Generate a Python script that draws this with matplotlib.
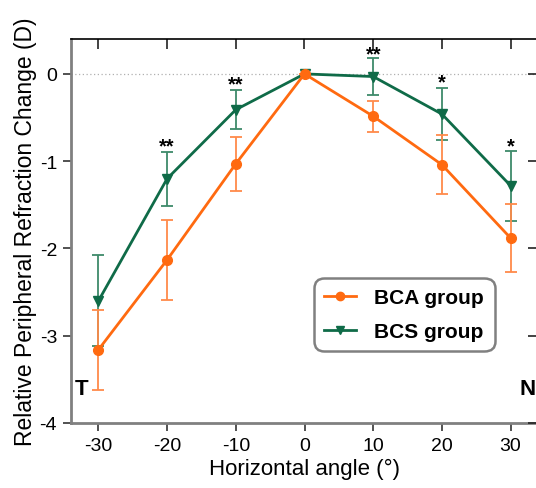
import matplotlib
matplotlib.use("Agg")
import matplotlib.pyplot as plt
from matplotlib.lines import Line2D

plt.rcParams['font.family'] = ['Liberation Sans', 'DejaVu Sans']

angles = [-30, -20, -10, 0, 10, 20, 30]
bca_mean = [-3.16, -2.13, -1.03, 0.0, -0.485, -1.04, -1.88]
bca_err = [0.46, 0.46, 0.31, 0.0, 0.18, 0.34, 0.39]
bcs_mean = [-2.60, -1.20, -0.41, 0.0, -0.03, -0.46, -1.28]
bcs_err = [0.52, 0.31, 0.22, 0.0, 0.21, 0.30, 0.40]
sig_angles = [-20, -10, 10, 20, 30]
sig_labels = ['**', '**', '**', '*', '*']
sig_y = [-0.82, -0.11, 0.23, -0.09, -0.82]
xticks = [-30, -20, -10, 0, 10, 20, 30]
yticks = [-4, -3, -2, -1, 0]

orange = '#FF6A10'
green = '#0F6B48'

fig = plt.figure(figsize=(5.36, 4.89), dpi=100)
W, H = 536, 489
ax = fig.add_axes([71 / W, 1 - 424 / H, (538 - 71) / W, (424 - 40) / H])

ax.axhline(0, color='#b0b0b0', lw=0.9, ls=(0, (1, 2)), zorder=0)

ax.errorbar(angles, bcs_mean, yerr=bcs_err, color=green, ecolor='#3E8A6A',
            elinewidth=1.3, capsize=4.5, capthick=1.3, lw=2, marker='v',
            markersize=7, zorder=3)
ax.errorbar(angles, bca_mean, yerr=bca_err, color=orange, ecolor='#FF8A4A',
            elinewidth=1.3, capsize=4.5, capthick=1.3, lw=2, marker='o',
            markersize=7, zorder=4)

for a, s, y in zip(sig_angles, sig_labels, sig_y):
    ax.text(a, y, s, ha='center', va='center', fontsize=14.5, fontweight='bold')

ax.text(-32.5, -3.6, 'T', ha='center', va='center', fontsize=16, fontweight='bold')
ax.text(32.5, -3.6, 'N', ha='center', va='center', fontsize=16, fontweight='bold')

ax.set_xlim(-34, 34)
ax.set_ylim(-4, 0.4)
ax.set_xticks(xticks)
ax.set_xticklabels([str(t) for t in xticks])
ax.set_yticks(yticks)
ax.set_yticklabels([str(t) for t in yticks])
ax.tick_params(axis='both', labelsize=14, length=6, width=1.1, colors='#222222',
               labelcolor='black', direction='out', pad=4)

axt = ax.twiny()
axt.set_xlim(ax.get_xlim())
axt.set_xticks(xticks)
axt.tick_params(axis='x', direction='in', length=7, width=1.2, labeltop=False, colors='#222222')
axr = ax.twinx()
axr.set_ylim(ax.get_ylim())
axr.set_yticks(yticks)
axr.tick_params(axis='y', direction='in', length=7, width=1.2, labelright=False, colors='#222222')
for a in (axt, axr):
    for sp in a.spines.values():
        sp.set_visible(False)
axt.spines['top'].set_visible(True)
axt.spines['top'].set_color('black')
axt.spines['top'].set_linewidth(1.2)

ax.spines['left'].set_color('#808080')
ax.spines['left'].set_linewidth(2)
ax.spines['bottom'].set_color('#808080')
ax.spines['bottom'].set_linewidth(2)
ax.spines['top'].set_visible(False)
ax.spines['right'].set_visible(False)

ax.set_xlabel('Horizontal angle (°)', fontsize=16, labelpad=3)
ax.set_ylabel('Relative Peripheral Refraction Change (D)', fontsize=16.5, labelpad=2)

handles = [Line2D([], [], color=orange, lw=2, marker='o', markersize=6),
           Line2D([], [], color=green, lw=2, marker='v', markersize=6)]
leg = axr.legend(handles, ['BCA group', 'BCS group'], loc='upper left',
                 bbox_to_anchor=((314 - 71) / (538 - 71), 1 - (279 - 40) / (424 - 40)),
                 prop={'weight': 'bold', 'size': 15}, frameon=True, fancybox=True,
                 edgecolor='#808080', framealpha=1, borderpad=0.5, handlelength=1.5,
                 labelspacing=0.7, handletextpad=0.9, borderaxespad=0)
leg.get_frame().set_linewidth(1.8)
leg.get_frame().set_boxstyle('round,pad=0.0,rounding_size=0.5')

fig.savefig('out.png', dpi=100)
